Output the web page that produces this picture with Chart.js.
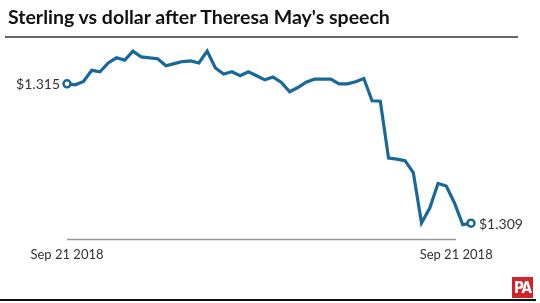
<!DOCTYPE html>
<html>
<head>
<meta charset="utf-8">
<script src="https://cdn.jsdelivr.net/npm/chart.js@4.4.0/dist/chart.umd.min.js"></script>
<style>
	body { margin: 0; background: #fff; font-family: Lato, "Open Sans", sans-serif; }
	#wrap { position: relative; width: 540px; height: 303px; overflow: hidden; }
	#title { position: absolute; left: 8px; top: 5px; font-size: 19.5px; font-weight: bold; color: #111; white-space: nowrap; }
	#rule { position: absolute; left: 5px; top: 36px; width: 513px; height: 2px; background: #666; }
	#bottom { position: absolute; left: 0; top: 299px; width: 536px; height: 2px; background: #111; }
	#pa { position: absolute; left: 512px; top: 277px; width: 21px; height: 21px; background: #d2232a; color: #fff; font: bold 15px "Liberation Sans Narrow", "DejaVu Sans Condensed", sans-serif; text-align: center; line-height: 22px; letter-spacing: -1px; }
	canvas { position: absolute; left: 0; top: 0; }
</style>
</head>
<body>
<div id="wrap">
	<canvas id="chart" width="540" height="303"></canvas>
	<div id="title">Sterling vs dollar after Theresa May's speech</div>
	<div id="rule"></div>
	<div id="bottom"></div>
	<div id="pa">PA</div>
</div>
<script>
// GBP/USD rate through the day
var rates = [
	1.3150, 1.31496, 1.3151, 1.31558, 1.31552, 1.3159, 1.31612, 1.31602, 1.31641, 1.31616,
	1.31612, 1.31608, 1.31578, 1.31587, 1.31596, 1.31599, 1.3159, 1.31641, 1.31568, 1.31542,
	1.31552, 1.31535, 1.31552, 1.31535, 1.31517, 1.31529, 1.31506, 1.31466, 1.31484, 1.31507,
	1.3152, 1.3152, 1.3152, 1.3150, 1.3150, 1.31509, 1.31523, 1.31427, 1.31425, 1.3118,
	1.31176, 1.31169, 1.31118, 1.30901, 1.30965, 1.31071, 1.3106, 1.30987, 1.30893, 1.3090
];
var tick_positions = [0, 47.2];
var tick_labels = ["Sep 21 2018", "Sep 21 2018"];
var start_label = "$1.315";
var end_label = "$1.309";

var points = rates.map((r, i) => ({ x: i, y: r }));
var last = rates.length - 1;

// the grey baseline stops under the right-hand date, not at the end of the line
var baseline = {
	id: "baseline",
	beforeDatasetsDraw: function (chart) {
		var ctx = chart.ctx;
		var x = chart.scales.x;
		var y = chart.chartArea.bottom;
		ctx.save();
		ctx.strokeStyle = "#999";
		ctx.lineWidth = 1.5;
		ctx.beginPath();
		ctx.moveTo(x.getPixelForValue(tick_positions[0]), y);
		ctx.lineTo(x.getPixelForValue(tick_positions[1]), y);
		ctx.stroke();
		ctx.restore();
	}
};

var end_labels = {
	id: "endLabels",
	afterDatasetsDraw: function (chart) {
		var ctx = chart.ctx;
		var meta = chart.getDatasetMeta(0);
		var first = meta.data[0];
		var end = meta.data[last];
		ctx.save();
		ctx.font = "14px Lato";
		ctx.fillStyle = "#333";
		ctx.textBaseline = "middle";
		ctx.textAlign = "right";
		ctx.fillText(start_label, first.x - 7, first.y + 1);
		ctx.textAlign = "left";
		ctx.fillText(end_label, end.x + 8, end.y + 1);
		ctx.restore();
	}
};

var chart = new Chart(document.getElementById("chart"), {
	type: "line",
	data: {
		datasets: [{
			data: points,
			borderColor: "#18699b",
			borderWidth: 3.2,
			tension: 0,
			clip: false,
			pointRadius: rates.map((r, i) => (i === 0 || i === last) ? 3.5 : 0),
			pointBackgroundColor: "#fff",
			pointBorderColor: "#18699b",
			pointBorderWidth: 2.5,
			fill: false
		}]
	},
	options: {
		responsive: false,
		animation: false,
		layout: { padding: { left: 67, right: 69, top: 49, bottom: 40 } },
		plugins: { legend: { display: false }, tooltip: { enabled: false } },
		scales: {
			x: {
				type: "linear",
				min: 0,
				max: last,
				afterBuildTicks: function (axis) {
					axis.ticks = tick_positions.map(v => ({ value: v }));
				},
				ticks: {
					autoSkip: false,
					maxRotation: 0,
					padding: 0,
					color: "#333",
					font: { family: "Lato", size: 13 },
					callback: function (value, index) { return tick_labels[index]; }
				},
				grid: { display: false },
				border: { display: false }
			},
			y: {
				display: false,
				min: 1.3083,
				max: 1.3165
			}
		}
	},
	plugins: [baseline, end_labels]
});
</script>
</body>
</html>
